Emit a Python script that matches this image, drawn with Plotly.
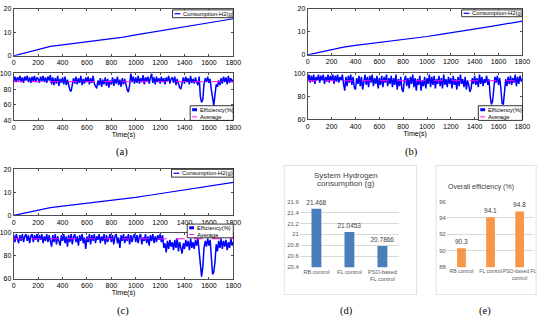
import plotly.graph_objects as go

W, H = 550, 321

# ---------------- data ----------------
time_s = list(range(0, 1801, 10))
cons_t = list(range(0, 1801, 100))

cons_a = [0, 1.4, 2.8, 4.0, 4.7, 5.3, 6.0, 6.6, 7.3, 8.0, 8.9, 9.8, 10.6, 11.4, 12.3, 13.1, 14.0, 14.9, 15.8]
cons_b = [0, 1.2, 2.4, 3.4, 4.1, 4.7, 5.4, 6.0, 6.7, 7.3, 8.0, 8.8, 9.7, 10.5, 11.3, 12.1, 12.9, 13.7, 14.7]
cons_c = [0, 1.1, 2.3, 3.3, 4.0, 4.6, 5.3, 5.9, 6.5, 7.1, 7.8, 8.6, 9.4, 10.2, 11.0, 11.8, 12.6, 13.4, 14.3]

eff_a = [
    90, 96, 89, 95, 91, 97, 89, 95, 88, 96,
    91, 97, 89, 95, 88, 96, 90, 97, 89, 95,
    93, 88, 96, 90, 97, 89, 95, 88, 96, 91,
    98, 86, 95, 85, 94, 87, 97, 84, 93, 88,
    95, 86, 96, 85, 92, 83, 79, 77, 85, 94,
    87, 96, 86, 94, 88, 97, 85, 93, 87, 95,
    89, 96, 86, 94, 88, 97, 87, 83, 81, 91,
    85, 94, 83, 92, 86, 95, 84, 93, 82, 91,
    86, 95, 84, 93, 87, 96, 85, 92, 83, 94,
    86, 93, 84, 79, 76, 85, 100, 89, 96, 87,
    95, 88, 97, 87, 94, 89, 98, 86, 95, 90,
    96, 87, 94, 100, 88, 95, 86, 96, 89, 94,
    87, 96, 89, 94, 86, 95, 90, 97, 87, 93,
    95, 88, 96, 85, 93, 87, 82, 80, 89, 95,
    87, 96, 89, 94, 86, 97, 88, 93, 87, 95,
    89, 85, 96, 70, 63, 67, 87, 94, 89, 96,
    88, 93, 79, 65, 59, 73, 86, 83, 91, 85,
    94, 87, 96, 89, 95, 86, 97, 88, 94, 89,
    92,
]
eff_b = [
    94, 99, 92, 98, 93, 99, 91, 97, 94, 99,
    92, 98, 94, 99, 91, 97, 93, 99, 92, 98,
    94, 99, 91, 98, 93, 99, 92, 97, 94, 99,
    91, 85, 97, 89, 98, 92, 99, 90, 97, 88,
    86, 96, 91, 98, 89, 97, 86, 95, 99, 90,
    97, 88, 98, 92, 99, 89, 96, 91, 98, 87,
    96, 90, 98, 88, 97, 92, 99, 89, 96, 91,
    98, 88, 96, 90, 99, 86, 95, 89, 97, 86,
    84, 94, 98, 89, 96, 87, 97, 91, 99, 88,
    96, 85, 95, 90, 98, 85, 94, 89, 97, 87,
    96, 91, 99, 88, 97, 90, 98, 87, 95, 91,
    98, 89, 96, 87, 99, 90, 95, 88, 97, 91,
    96, 87, 98, 90, 95, 86, 97, 89, 99, 91,
    95, 88, 97, 86, 94, 90, 84, 87, 96, 91,
    98, 90, 96, 88, 99, 91, 97, 89, 95, 92,
    98, 90, 95, 80, 73, 76, 91, 97, 92, 98,
    90, 96, 86, 74, 73, 88, 95, 89, 97, 91,
    98, 90, 96, 92, 99, 89, 97, 91, 98, 93,
    95,
]
eff_c = [
    98, 92, 99, 94, 91, 98, 93, 99, 92, 97,
    99, 93, 98, 91, 97, 99, 92, 98, 94, 99,
    92, 98, 94, 99, 91, 97, 93, 99, 92, 98,
    94, 88, 98, 92, 99, 90, 97, 93, 89, 98,
    93, 99, 91, 97, 88, 98, 92, 99, 90, 97,
    99, 92, 97, 89, 98, 93, 99, 91, 96, 86,
    97, 92, 99, 90, 98, 93, 99, 91, 97, 94,
    99, 91, 97, 93, 99, 90, 98, 92, 96, 99,
    92, 98, 90, 97, 99, 91, 96, 87, 98, 93,
    99, 91, 97, 93, 99, 90, 98, 92, 97, 99,
    92, 98, 91, 97, 99, 90, 96, 93, 99, 91,
    97, 89, 98, 93, 99, 91, 97, 92, 98, 94,
    99, 92, 98, 87, 91, 83, 93, 86, 94, 88,
    92, 85, 94, 87, 95, 84, 92, 88, 82, 91,
    86, 94, 88, 93, 85, 95, 87, 92, 86, 94,
    89, 95, 84, 72, 62, 70, 87, 93, 88, 95,
    89, 94, 78, 64, 66, 75, 90, 84, 93, 87,
    95, 86, 93, 88, 94, 85, 92, 87, 95, 89,
    92,
]
avg_a, avg_b, avg_c = 89.5, 93.7, 94.9

bar_cats = ["RB control", "FL control", "PSO-based FL control"]
d_ticktext = ["RB control", "FL control", "PSO-based<br>FL control"]
e_ticktext = ["RB control", "FL control", "PSO-based FL<br>control"]
h2_vals = [21.468, 21.0453, 20.7866]
h2_labels = ["21.468", "21.0453", "20.7866"]
eff_vals = [90.3, 94.1, 94.8]
eff_labels = ["90.3", "94.1", "94.8"]

x_ticks = list(range(0, 1801, 200))

# ---------------- helpers ----------------
def fx(px):
    return px / W

def fy(py):
    return 1 - py / H

BLUE = "#0000FF"
MAG = "#FF00FF"
AXC = "#4d4d4d"
TICKFONT = dict(family="Liberation Sans, Arial, sans-serif", size=7, color="black")
NARROW = "Liberation Sans Narrow, Arial Narrow, Liberation Sans, sans-serif"

fig = go.Figure()

panels = [
    (1, 11, 235, 5, 53, [0, 20], 10),
    (2, 11, 235, 71, 119, [40, 100], 20),
    (3, 311, 530, 5, 52, [0, 20], 10),
    (4, 311, 530, 71, 118, [60, 100], 20),
    (5, 11, 235, 169, 216, [0, 20], 10),
    (6, 11, 235, 234, 281, [60, 100], 20),
]

layout = dict(
    width=W, height=H, margin=dict(l=0, r=0, t=0, b=0),
    paper_bgcolor="white", plot_bgcolor="white", showlegend=False,
    font=dict(family="Liberation Sans, Arial, sans-serif", size=7, color="black"),
)

for (i, x0, x1, y0, y1, yr, dt) in panels:
    xs = "xaxis" if i == 1 else f"xaxis{i}"
    ys = "yaxis" if i == 1 else f"yaxis{i}"
    layout[xs] = dict(
        domain=[fx(x0), fx(x1)], anchor=f"y{'' if i == 1 else i}", range=[0, 1800],
        tickvals=x_ticks, ticks="inside", ticklen=2, tickcolor=AXC,
        showline=True, linecolor=AXC, linewidth=1, mirror="ticks",
        showgrid=False, zeroline=False, tickfont=TICKFONT,
    )
    layout[ys] = dict(
        domain=[fy(y1), fy(y0)], anchor=f"x{'' if i == 1 else i}", range=yr,
        dtick=dt, ticks="inside", ticklen=2, tickcolor=AXC,
        showline=True, linecolor=AXC, linewidth=1, mirror="ticks",
        showgrid=False, zeroline=False, tickfont=TICKFONT,
    )
    if i in (2, 4, 6):
        layout[xs]["title"] = dict(text="Time(s)", font=dict(size=7), standoff=0)

for (ax, vals) in [(1, cons_a), (3, cons_b), (5, cons_c)]:
    fig.add_trace(go.Scatter(
        x=cons_t, y=vals, mode="lines", line=dict(color=BLUE, width=1.2),
        xaxis=f"x{'' if ax == 1 else ax}", yaxis=f"y{'' if ax == 1 else ax}",
        name="Consumption-H2(g)"))

for (ax, vals, av) in [(2, eff_a, avg_a), (4, eff_b, avg_b), (6, eff_c, avg_c)]:
    fig.add_trace(go.Scatter(
        x=time_s, y=vals, mode="lines", line=dict(color=BLUE, width=1.5),
        xaxis=f"x{ax}", yaxis=f"y{ax}", name="Efficiency(%)"))
    fig.add_trace(go.Scatter(
        x=[time_s[0], time_s[-1]], y=[av, av], mode="lines",
        line=dict(color=MAG, width=1, dash="dash"),
        xaxis=f"x{ax}", yaxis=f"y{ax}", name="Average"))

bar_axis_common = dict(showgrid=True, gridcolor="#d9d9d9", gridwidth=1, zeroline=False,
                       ticks="", showline=False,
                       tickfont=dict(family=NARROW, size=6, color="#595959"))
cat_axis_common = dict(type="category", tickvals=bar_cats, showgrid=False, zeroline=False,
                       showline=False, ticks="", tickangle=0)
layout["xaxis7"] = dict(domain=[fx(303), fx(404)], anchor="y7", ticktext=d_ticktext,
                        tickfont=dict(family=NARROW, size=5.6, color="#595959"), **cat_axis_common)
layout["yaxis7"] = dict(domain=[fy(269), fy(202)], anchor="x7", range=[20.4, 21.6],
                        tickvals=[20.4, 20.6, 20.8, 21.0, 21.2, 21.4, 21.6],
                        ticktext=["20.4", "20.6", "20.8", "21", "21.2", "21.4", "21.6"],
                        **bar_axis_common)
layout["xaxis8"] = dict(domain=[fx(453), fx(542)], anchor="y8", ticktext=e_ticktext,
                        tickfont=dict(family=NARROW, size=5.1, color="#595959"), **cat_axis_common)
layout["yaxis8"] = dict(domain=[fy(269), fy(202)], anchor="x8", range=[88, 96],
                        dtick=2, **bar_axis_common)

fig.add_trace(go.Bar(x=bar_cats, y=h2_vals, text=h2_labels, textposition="outside",
                     cliponaxis=False, constraintext="none", width=0.3,
                     marker=dict(color="#4A7EBB", line=dict(width=0)),
                     textfont=dict(family=NARROW, size=6.5, color="#404040"),
                     xaxis="x7", yaxis="y7", name="System Hydrogen consumption (g)"))
fig.add_trace(go.Bar(x=bar_cats, y=eff_vals, text=eff_labels, textposition="outside",
                     cliponaxis=False, constraintext="none", width=0.3,
                     marker=dict(color="#F79646", line=dict(width=0)),
                     textfont=dict(family=NARROW, size=6.5, color="#404040"),
                     xaxis="x8", yaxis="y8", name="Overall efficiency (%)"))

fig.update_layout(**layout)

shapes = []
annotations = []

def rect(x0, y0, x1, y1, color="black", fill="white", width=0.8):
    shapes.append(dict(type="rect", xref="paper", yref="paper",
                       x0=fx(x0), x1=fx(x1), y0=fy(y1), y1=fy(y0),
                       line=dict(color=color, width=width), fillcolor=fill, layer="above"))

def seg(x0, x1, y, color, width, dash="solid"):
    shapes.append(dict(type="line", xref="paper", yref="paper",
                       x0=fx(x0), x1=fx(x1), y0=fy(y), y1=fy(y),
                       line=dict(color=color, width=width, dash=dash), layer="above"))

def text(x, y, s, size=6, xanchor="left", family="Liberation Sans, Arial, sans-serif", color="black"):
    annotations.append(dict(xref="paper", yref="paper", x=fx(x), y=fy(y), text=s,
                            showarrow=False, xanchor=xanchor, yanchor="middle",
                            font=dict(family=family, size=size, color=color)))

for (bx0, bx1, by0, by1) in [(173, 235, 6, 14), (468, 530, 6, 13), (172, 235, 169, 177)]:
    rect(bx0, by0, bx1, by1)
    cy = (by0 + by1) / 2
    seg(bx0 + 2, bx0 + 8, cy, BLUE, 1.2)
    text(bx0 + 9, cy, "Consumption-H2(g)", size=5.8)

for (bx0, bx1, by0, by1) in [(191, 235, 104, 119), (485, 530, 104, 119), (188, 235, 225, 239)]:
    rect(bx0, by0, bx1, by1)
    r1 = by0 + (by1 - by0) * 0.27
    r2 = by0 + (by1 - by0) * 0.76
    seg(bx0 + 2, bx0 + 7, r1, BLUE, 3)
    text(bx0 + 8, r1, "Efficiency(%)", size=5.8)
    seg(bx0 + 2, bx0 + 7, r2, MAG, 1, "dash")
    text(bx0 + 8, r2, "Average", size=5.8)

rect(287, 165, 422, 297, color="#d9d9d9", fill="rgba(0,0,0,0)")
rect(442, 165, 544, 297, color="#d9d9d9", fill="rgba(0,0,0,0)")
text(350, 175, "System Hydrogen", size=8, xanchor="center", family=NARROW, color="#404040")
text(350, 184, "consumption (g)", size=8, xanchor="center", family=NARROW, color="#404040")
text(488, 187, "Overall efficiency (%)", size=7, xanchor="center", family=NARROW, color="#404040")

SERIF = "Liberation Serif, Times New Roman, serif"
for (x, y, s) in [(121, 151, "(a)"), (417, 151, "(b)"), (122, 314, "(c)"), (350, 314, "(d)"), (492, 314, "(e)")]:
    text(x, y, s, size=10.5, xanchor="center", family=SERIF)

fig.update_layout(shapes=shapes, annotations=annotations)
fig.write_html("out.html", config={"displayModeBar": False},
               post_script="document.body.style.margin='0px';")
